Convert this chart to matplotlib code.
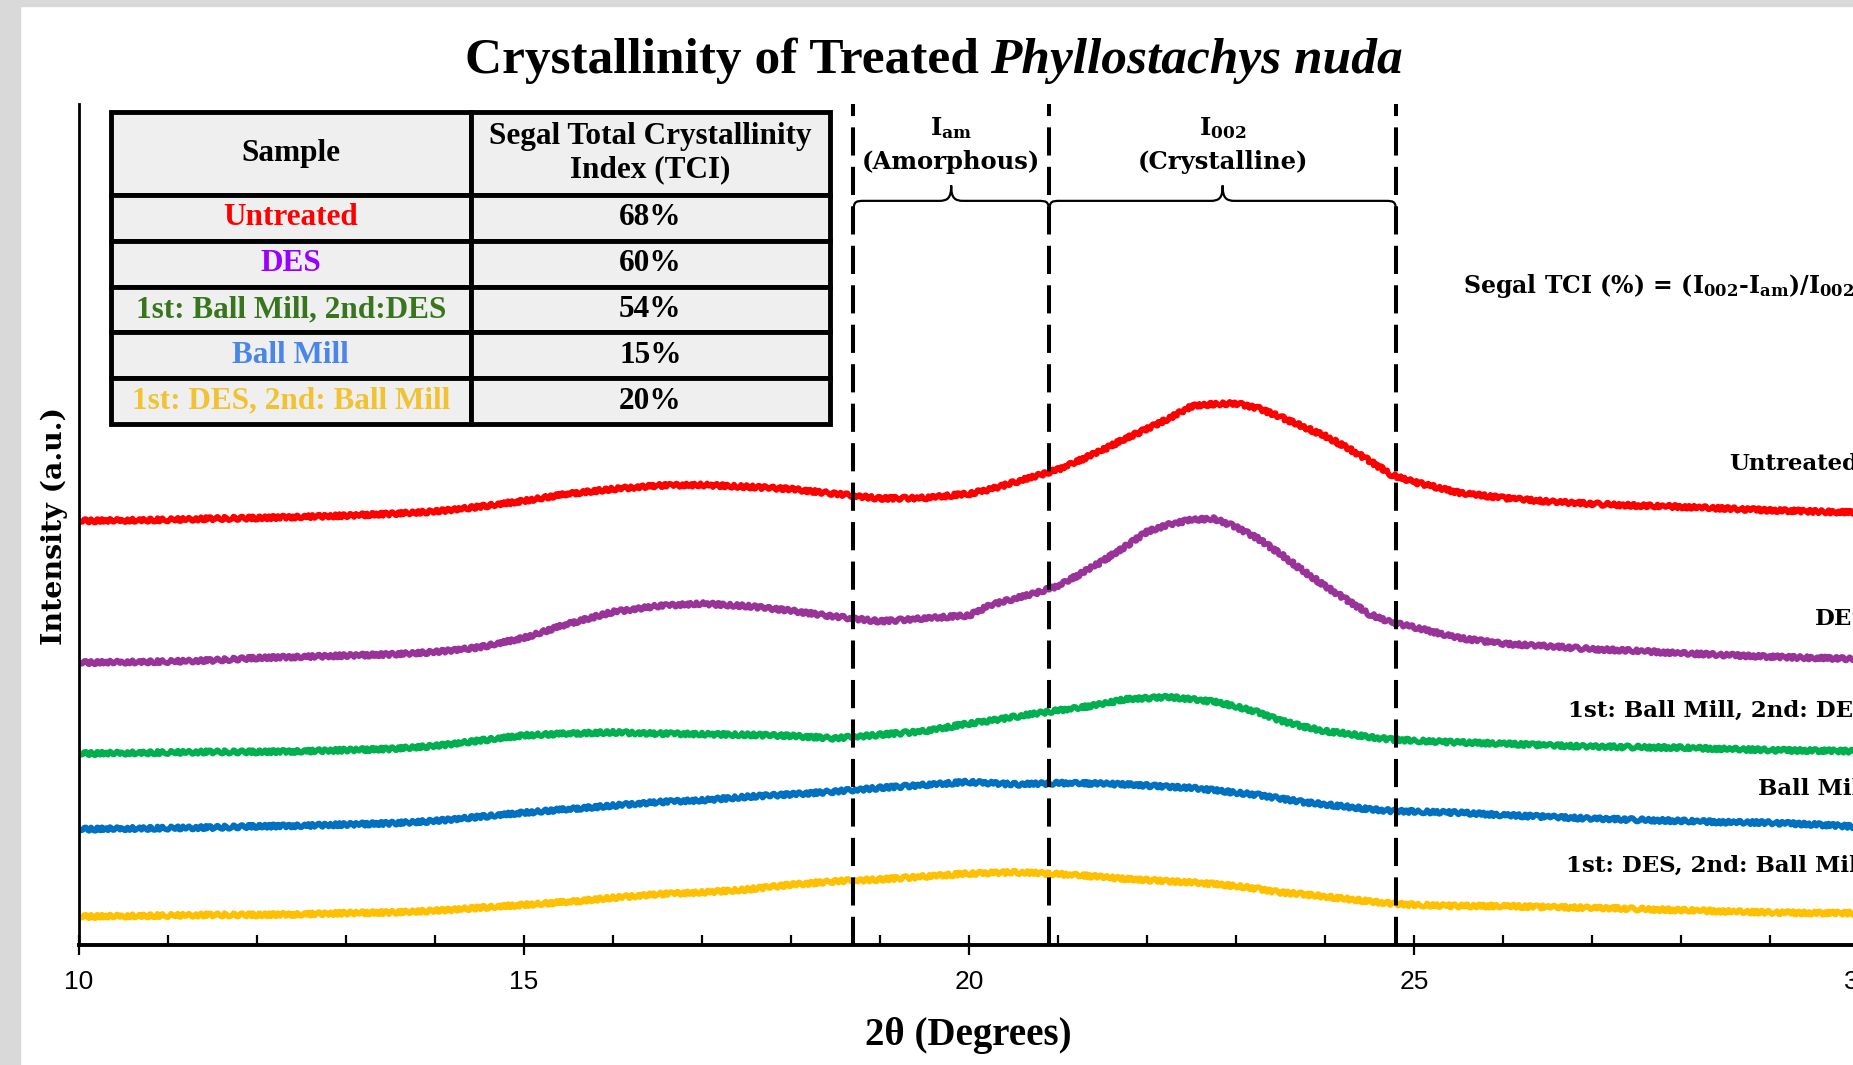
import matplotlib
matplotlib.use("Agg")
import matplotlib.pyplot as plt
from matplotlib.patches import Rectangle, PathPatch
from matplotlib.path import Path

# 2-theta grid (degrees) and intensities (a.u.)
two_theta = [10.0, 10.5, 11.0, 11.5, 12.0, 12.5, 13.0, 13.5, 14.0, 14.5,
             15.0, 15.5, 16.0, 16.5, 17.0, 17.5, 18.0, 18.5, 19.0, 19.5,
             20.0, 20.25, 20.5, 20.75, 21.0, 21.25, 21.5, 21.75, 22.0, 22.25,
             22.5, 22.75, 23.0, 23.25, 23.5, 23.75, 24.0, 24.25, 24.5, 24.75,
             25.0, 25.5, 26.0, 26.5, 27.0, 27.5, 28.0, 28.5, 29.0, 29.5, 30.0]

untreated = [359, 359.5, 360, 361, 361.5, 362.5, 363.5, 365, 367, 371,
             376, 382, 386, 389, 389.5, 388, 386, 382, 378, 378.5,
             382, 386, 391.5, 397, 402.5, 410.5, 419, 428.5, 437, 446,
             456, 458, 458.5, 454.5, 447, 439, 431, 421, 410, 398,
             392, 383, 378.5, 375.5, 373.5, 372, 371, 369.5, 368, 367, 366]

des = [239, 239.5, 240, 241, 243, 244, 245, 246, 248, 252,
       260, 272, 282, 287, 289, 287, 283, 278, 274, 276.5,
       279, 288, 293, 298, 304, 314, 325, 337, 350, 356,
       360, 361, 354, 344, 331, 317, 304, 292, 280, 273,
       269, 260, 255, 253, 250.5, 249, 247, 245.5, 244, 243, 242]

bm_des = [162, 162.5, 163, 163.5, 163.5, 164, 165, 166, 168.5, 173,
          177.5, 179, 180, 179, 178.5, 178, 177, 175, 178, 181,
          187.5, 190, 193, 196, 198.5, 201, 204, 208, 209, 210,
          208, 206, 202, 197, 190, 185, 181, 179, 176, 174,
          173, 171.5, 170.5, 169, 168, 167.5, 167, 166, 165, 164.5, 164]

ball_mill = [98, 98.5, 99, 99.5, 100.5, 101, 102, 103, 105, 108.5,
             112, 115, 118, 121, 122.5, 125.5, 127.5, 130, 133, 135.5,
             138, 137, 136, 136.5, 137, 137, 136.5, 136, 135, 134,
             133, 131, 129, 127, 124, 121, 119, 117, 115, 113.5,
             113, 112, 110, 108.5, 107, 106, 105, 104, 103.5, 102, 100]

des_bm = [24, 24.5, 25, 25.5, 25.5, 26, 27, 27.5, 29, 31.5,
          34, 36.5, 40, 43, 44.5, 47, 51, 54, 55.5, 58,
          60.5, 61, 61.5, 61, 60, 59, 57.5, 56, 55, 54,
          53, 51.5, 50, 47.5, 44.5, 43, 41, 39, 37, 35,
          34, 33, 33, 32, 31.5, 30.5, 29.5, 28.5, 27.5, 27, 27]

series = [untreated, des, bm_des, ball_mill, des_bm]
line_colors = ["#FF0000", "#993399", "#00B050", "#0070C0", "#FFC000"]
curve_labels = ["Untreated", "DES", "1st: Ball Mill, 2nd: DES", "Ball Mill",
                "1st: DES, 2nd: Ball Mill"]

# table contents
samples = ["Untreated", "DES", "1st: Ball Mill, 2nd:DES", "Ball Mill",
           "1st: DES, 2nd: Ball Mill"]
tci = ["68%", "60%", "54%", "15%", "20%"]
sample_colors = ["#FF0000", "#9900FF", "#38761D", "#4A86E8", "#F1C232"]

# region boundaries (degrees)
am_left = 18.7
am_right = 20.9
cr_right = 24.8

plt.rcParams['mathtext.fontset'] = 'custom'
plt.rcParams['mathtext.rm'] = 'DejaVu Serif:bold'
plt.rcParams['mathtext.bf'] = 'DejaVu Serif:bold'
plt.rcParams['mathtext.it'] = 'DejaVu Serif:bold'

W, H = 1853, 1065
fig = plt.figure(figsize=(W / 100, H / 100), dpi=100)
fig.patch.set_facecolor("white")
# grey frame on the left and top edge
fig.patches.append(Rectangle((0, 0), 20 / W, 1, transform=fig.transFigure,
                             color="#D9D9D9", zorder=0))
fig.patches.append(Rectangle((0, 1 - 6 / H), 1, 6 / H, transform=fig.transFigure,
                             color="#D9D9D9", zorder=0))

ax = fig.add_axes([79 / W, 120 / H, 1780 / W, 841 / H])
ax.set_xlim(10, 30)
ax.set_ylim(0, 712)

for ys, c in zip(series, line_colors):
    ln, = ax.plot(two_theta, ys, color=c, lw=4, solid_capstyle='round', zorder=2)
    ln.set_sketch_params(1.8, 7, 3)  # rough, noisy-looking trace

for xv in [am_left, am_right, cr_right]:
    ax.axvline(xv, color="black", lw=2.9, linestyle=(0, (7, 2.8)), zorder=3)

# curly braces over the two regions
def brace(x1, x2, y_end=613, y_mid=630, y_tip=643, r=0.14):
    xm = (x1 + x2) / 2
    verts = [(x1, y_end), (x1, y_mid), (x1, y_mid), (x1 + r, y_mid),
             (xm - r, y_mid),
             (xm - r * 0.3, y_mid), (xm, y_mid + 2), (xm, y_tip),
             (xm, y_mid + 2), (xm + r * 0.3, y_mid), (xm + r, y_mid),
             (x2 - r, y_mid),
             (x2, y_mid), (x2, y_mid), (x2, y_end)]
    codes = [Path.MOVETO, Path.CURVE4, Path.CURVE4, Path.CURVE4,
             Path.LINETO,
             Path.CURVE4, Path.CURVE4, Path.CURVE4,
             Path.CURVE4, Path.CURVE4, Path.CURVE4,
             Path.LINETO,
             Path.CURVE4, Path.CURVE4, Path.CURVE4]
    ax.add_patch(PathPatch(Path(verts, codes), fill=False, lw=1.6,
                           edgecolor="black", zorder=3))

brace(am_left, am_right)
brace(am_right, cr_right)

lab_font = dict(family="DejaVu Serif", weight="bold", size=17.5)
ax.text((am_left + am_right) / 2, 692, r"I$_{\mathbf{am}}$", ha="center", va="center", **lab_font)
ax.text((am_left + am_right) / 2, 663, "(Amorphous)", ha="center", va="center", **lab_font)
ax.text((am_right + cr_right) / 2, 692, r"I$_{\mathbf{002}}$", ha="center", va="center", **lab_font)
ax.text((am_right + cr_right) / 2, 663, "(Crystalline)", ha="center", va="center", **lab_font)

# spines and ticks
for s in ["top", "right"]:
    ax.spines[s].set_visible(False)
ax.spines["left"].set_linewidth(2)
ax.spines["bottom"].set_linewidth(2.8)
ax.set_xticks([10, 15, 20, 25, 30])
ax.set_xticks(range(10, 31), minor=True)
ax.tick_params(axis="x", which="major", direction="inout", length=14, width=1.6,
               labelsize=19, pad=11, labelfontfamily="Liberation Sans")
ax.tick_params(axis="x", which="minor", direction="in", length=7, width=1.6)
ax.tick_params(axis="y", left=False, labelleft=False)

# table with the crystallinity index
tbl = ax.table(cellText=[[s, t] for s, t in zip(samples, tci)],
               colLabels=["Sample", "Segal Total Crystallinity\nIndex (TCI)"],
               cellLoc="center", colWidths=[0.5, 0.5],
               bbox=[0.018, 0.6195, 0.404, 0.371], zorder=5)
tbl.auto_set_font_size(False)
for (r, c), cell in tbl.get_celld().items():
    cell.set_facecolor("#EFEFEF")
    cell.set_edgecolor("black")
    cell.set_linewidth(3.5)
    txt = cell.get_text()
    txt.set_fontfamily("Liberation Serif")
    txt.set_fontweight("bold")
    txt.set_fontsize(22.5)
    if r == 0:
        cell.set_height(cell.get_height() * 1.81)
    elif c == 0:
        txt.set_color(sample_colors[r - 1])

# curve labels on the right (run off the edge like the reference)
label_pos = [(1729, 464), (1815, 619), (1568, 711), (1758, 789), (1566, 866)]
for lab, (px, py) in zip(curve_labels, label_pos):
    fig.text(px / W, 1 - py / H, lab, ha="left", va="center",
             family="DejaVu Serif", weight="bold", size=16.5)

fig.text(1463 / W, 1 - 286 / H,
         r"Segal TCI (%) = (I$_{\mathbf{002}}$-I$_{\mathbf{am}}$)/I$_{\mathbf{002}}$ x 100",
         ha="left", va="center", family="DejaVu Serif", weight="bold", size=17)

# axis labels
fig.text(968 / W, 1 - 1036 / H, "2θ (Degrees)", ha="center", va="center",
         family="Liberation Serif", weight="bold", size=28)
fig.text(54 / W, 1 - 526 / H, "Intensity (a.u.)", ha="center", va="center",
         rotation=90, family="DejaVu Serif", weight="bold", size=20.5)

# title: bold part + bold italic species name, centred together
t1 = fig.text(0, 1 - 73 / H, "Crystallinity of Treated", ha="left", va="baseline",
              family="Liberation Serif", weight="bold", size=37)
t2 = fig.text(0, 1 - 73 / H, "Phyllostachys nuda", ha="left", va="baseline",
              family="Liberation Serif", weight="bold", style="italic", size=37)
fig.canvas.draw()
rend = fig.canvas.get_renderer()
w1 = t1.get_window_extent(rend).width
w2 = t2.get_window_extent(rend).width
gap = 11
left = 934 - (w1 + gap + w2) / 2
t1.set_x(left / W)
t2.set_x((left + w1 + gap) / W)

fig.savefig("out.png", dpi=100)
